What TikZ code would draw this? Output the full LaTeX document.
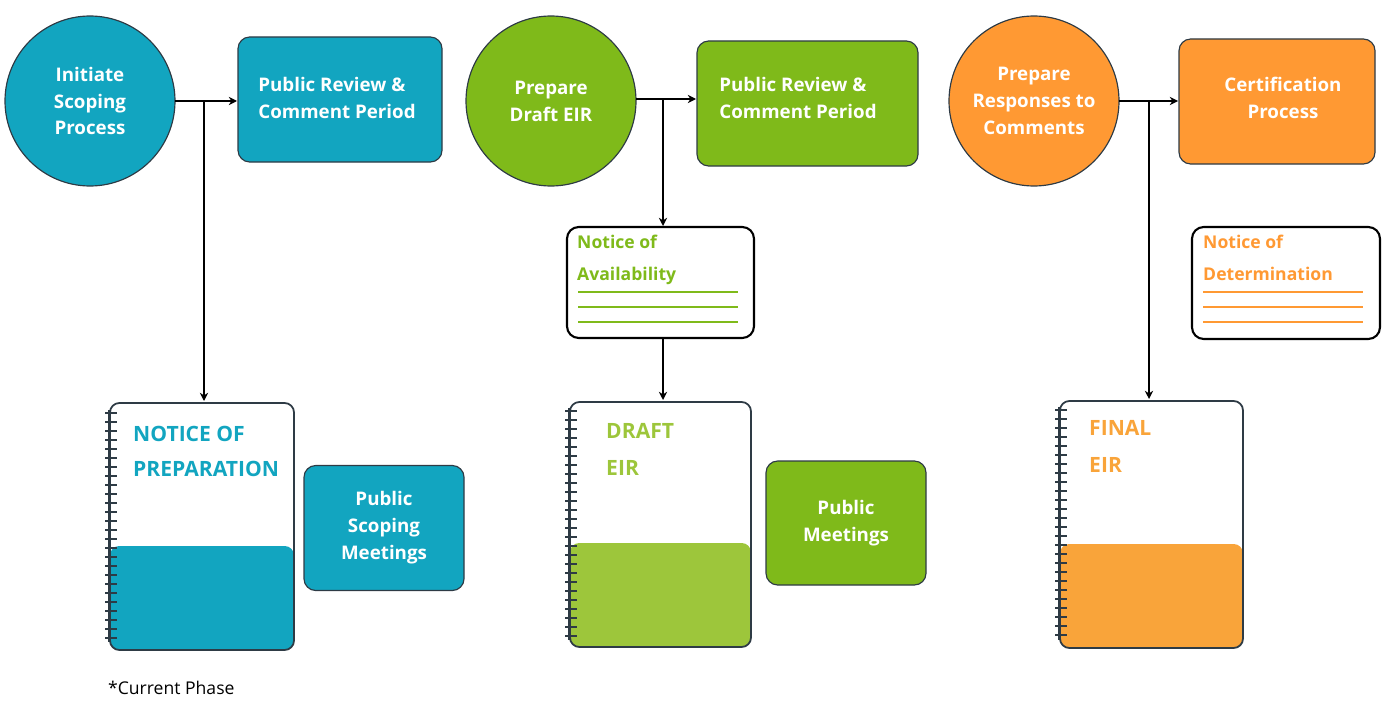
\documentclass[tikz,border=0pt]{standalone}
\usetikzlibrary{arrows.meta}
\usepackage{fontspec}
\setmainfont{Open Sans}
\begin{document}
\definecolor{teal}{HTML}{12A5C0}
\definecolor{grn}{HTML}{7FBA1A}
\definecolor{grnl}{HTML}{9DC63B}
\definecolor{org}{HTML}{FF9933}
\definecolor{orgl}{HTML}{F9A43A}
\definecolor{edge}{HTML}{2E3B45}
\begin{tikzpicture}[x=0.03cm,y=-0.03cm,
  circ/.style={circle,draw=edge,line width=1pt,minimum size=170*0.03cm,inner sep=0pt,text=white,font=\fontsize{16}{23}\selectfont\bfseries,align=center},
  box/.style={rounded corners=10pt,draw=edge,line width=1pt,text=white,font=\fontsize{16}{23}\selectfont\bfseries,align=center},
  note/.style={rounded corners=10pt,draw=black,line width=1.8pt,fill=white},
  arr/.style={line width=1.6pt,-{Stealth[length=7pt,width=7pt]}},
  ln/.style={line width=1.6pt}]
\useasboundingbox (0,0) rectangle (1390,703);
% column 1
\node[circ,fill=teal] (c1) at (90,101) {Initiate\\Scoping\\Process};
\draw[box,fill=teal] (238,37) rectangle (442,162);
\node[text=white,font=\fontsize{16}{23}\selectfont\bfseries,align=left] (b1) at (337,98) {Public Review \&\\Comment Period};
\coordinate (b1w) at (237,101);
\coordinate (j1) at (204,101);
% notebook 1
\fill[teal,rounded corners=8pt] (110,546) rectangle (294,650);
\draw[edge,line width=1.5pt,rounded corners=8pt] (110,403) rectangle (294,650);
\foreach \i in {0,...,25} \draw[edge,line width=1.2pt] (105,{413+\i*9}) -- (117,{413+\i*9});
\draw[edge,line width=2pt] (109,410) -- (109,642);
\coordinate (n1) at (204,401);
\node[anchor=north west,text=teal,font=\fontsize{18}{30}\selectfont\bfseries,align=left,inner sep=0pt] at (133,426) {NOTICE OF\\PREPARATION};
\node[box,fill=teal,minimum width=160*0.03cm,minimum height=125*0.03cm] (p1) at (384,528) {Public\\Scoping\\Meetings};
\draw[ln] (c1.east) ++(0,0) -- (j1);
\draw[arr] (175,101) -- (b1w);
\draw[arr] (j1) -- (n1);
\node[anchor=west,font=\fontsize{15}{18}\selectfont] (cp) at (104,688) {*Current Phase};
% column 2
\node[circ,fill=grn] (c2) at (551,101) {Prepare\\Draft EIR};
\draw[box,fill=grn] (697,41) rectangle (918,166);
\node[text=white,font=\fontsize{16}{23}\selectfont\bfseries,align=left] (b2) at (798,98) {Public Review \&\\Comment Period};
\coordinate (b2w) at (696,99);
\coordinate (j2) at (663,99);
\draw[note] (567,227) rectangle (754,338);
\coordinate (na) at (663,226);
\coordinate (nab) at (663,339);
\node[anchor=north west,text=grn,font=\fontsize{15}{27}\selectfont\bfseries,align=left,inner sep=0pt] at (577,235) {Notice of\\Availability};
\foreach \yy in {292,307,322} \draw[grn,line width=1.3pt] (578,\yy) -- (738,\yy);
\fill[grnl,rounded corners=8pt] (570,543) rectangle (751,647);
\draw[edge,line width=1.5pt,rounded corners=8pt] (570,402) rectangle (751,647);
\foreach \i in {0,...,25} \draw[edge,line width=1.2pt] (565,{411+\i*9}) -- (577,{411+\i*9});
\draw[edge,line width=2pt] (569,408) -- (569,640);
\coordinate (n2) at (663,400);
\node[anchor=north west,text=grnl,font=\fontsize{18}{32}\selectfont\bfseries,align=left,inner sep=0pt] at (606,423) {DRAFT\\EIR};
\node[box,fill=grn,minimum width=160*0.03cm,minimum height=124*0.03cm] (p2) at (846,523) {Public\\Meetings};
\draw[ln] (636,99) -- (j2);
\draw[arr] (636,99) -- (b2w);
\draw[arr] (j2) -- (na);
\draw[arr] (nab) -- (n2);
% column 3
\node[circ,fill=org] (c3) at (1034,101) {Prepare\\Responses to\\Comments};
\draw[box,fill=org] (1179,39) rectangle (1375,164);
\node[text=white,font=\fontsize{16}{23}\selectfont\bfseries,align=center] (b3) at (1283,98) {Certification\\Process};
\coordinate (b3w) at (1178,101);
\coordinate (j3) at (1149,101);
\draw[note] (1192,227) rectangle (1380,339);
\node[anchor=north west,text=org,font=\fontsize{15}{27}\selectfont\bfseries,align=left,inner sep=0pt] at (1203,235) {Notice of\\Determination};
\foreach \yy in {292,307,322} \draw[org,line width=1.3pt] (1203,\yy) -- (1363,\yy);
\fill[orgl,rounded corners=8pt] (1060,544) rectangle (1243,648);
\draw[edge,line width=1.5pt,rounded corners=8pt] (1060,401) rectangle (1243,648);
\foreach \i in {0,...,25} \draw[edge,line width=1.2pt] (1055,{410+\i*9}) -- (1067,{410+\i*9});
\draw[edge,line width=2pt] (1059,407) -- (1059,640);
\coordinate (n3) at (1149,399);
\node[anchor=north west,text=orgl,font=\fontsize{18}{32}\selectfont\bfseries,align=left,inner sep=0pt] at (1089,420) {FINAL\\EIR};
\draw[arr] (1119,101) -- (b3w);
\draw[arr] (j3) -- (n3);
\end{tikzpicture}
\end{document}
